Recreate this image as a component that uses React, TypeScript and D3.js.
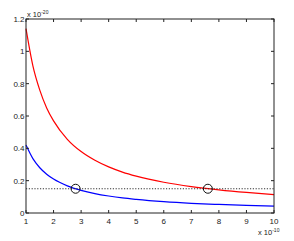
import React from "react";
import * as d3 from "d3";

const xs = [1, 1.25, 1.5, 1.75, 2, 2.5, 3, 3.5, 4, 4.5, 5, 6, 7, 8, 9, 10];
const redVals = [1.14, 0.91, 0.76, 0.65, 0.57, 0.456, 0.38, 0.326, 0.285, 0.253, 0.228, 0.19, 0.163, 0.143, 0.127, 0.114];
const blueVals = [0.42, 0.336, 0.28, 0.24, 0.21, 0.168, 0.14, 0.12, 0.105, 0.093, 0.084, 0.07, 0.06, 0.053, 0.047, 0.042];
const threshold = 0.15;
const markers = [2.8, 7.6];
const xTicks = [1, 2, 3, 4, 5, 6, 7, 8, 9, 10];
const yTicks = [0, 0.2, 0.4, 0.6, 0.8, 1, 1.2];

export default function App() {
  const W = 294, H = 241;
  const L = 26, R = 274, T = 19, B = 213;
  const x = d3.scaleLinear().domain([1, 10]).range([L, R]);
  const y = d3.scaleLinear().domain([0, 1.2]).range([B, T]);
  const line = d3.line<number>().x((_, i) => x(xs[i])).y((d) => y(d)).curve(d3.curveMonotoneX);
  const font = "Liberation Sans, Arial, sans-serif";
  const tl = 3;
  return (
    <svg width={W} height={H} style={{ position: "absolute", left: 0, top: 0, background: "#fff" }}>
      <path d={line(redVals) || ""} fill="none" stroke="#ff0000" strokeWidth={1.2} />
      <path d={line(blueVals) || ""} fill="none" stroke="#0000ff" strokeWidth={1.2} />
      <line x1={x(1)} x2={x(10)} y1={y(threshold)} y2={y(threshold)} stroke="#333" strokeWidth={1} strokeDasharray="1.2,1.6" />
      {markers.map((m, i) => (
        <circle key={i} cx={x(m)} cy={y(threshold)} r={4.5} fill="none" stroke="#111" strokeWidth={1} />
      ))}
      <rect x={L} y={T} width={R - L} height={B - T} fill="none" stroke="#222" strokeWidth={1} />
      {xTicks.map((t) => (
        <g key={"x" + t}>
          <line x1={x(t)} x2={x(t)} y1={B} y2={B - tl} stroke="#222" />
          <line x1={x(t)} x2={x(t)} y1={T} y2={T + tl} stroke="#222" />
          <text x={x(t)} y={224} fontSize={8} fontFamily={font} textAnchor="middle" fill="#222">{t}</text>
        </g>
      ))}
      {yTicks.map((t) => (
        <g key={"y" + t}>
          <line x1={L} x2={L + tl} y1={y(t)} y2={y(t)} stroke="#222" />
          <line x1={R} x2={R - tl} y1={y(t)} y2={y(t)} stroke="#222" />
          <text x={L - 1.5} y={y(t) + 3} fontSize={8} fontFamily={font} textAnchor="end" fill="#222">{String(t)}</text>
        </g>
      ))}
      <text x={27} y={17} fontSize={7.5} fontFamily={font} fill="#222">x 10<tspan fontSize={5} dy={-3}>-20</tspan></text>
      <text x={258} y={235} fontSize={7.5} fontFamily={font} fill="#222">x 10<tspan fontSize={5} dy={-3}>-10</tspan></text>
    </svg>
  );
}
